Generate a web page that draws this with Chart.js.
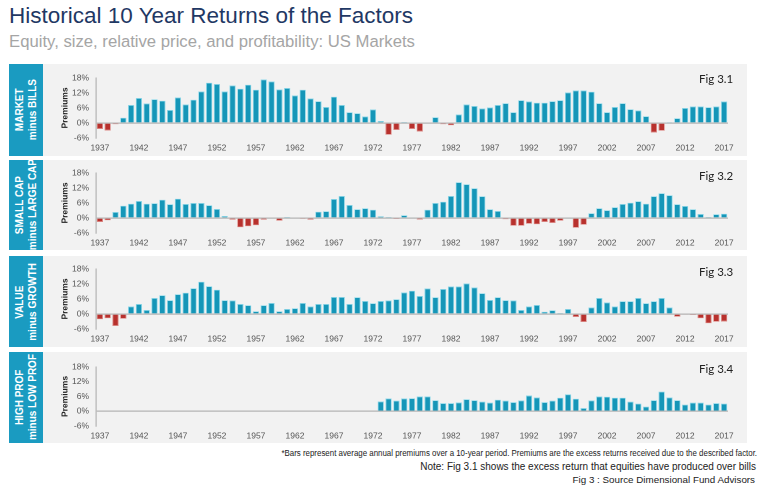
<!DOCTYPE html>
<html>
<head>
<meta charset="utf-8">
<script src="https://cdn.jsdelivr.net/npm/chart.js@4.4.1/dist/chart.umd.min.js"></script>
<style>
  html, body { margin:0; padding:0; background:#fff; }
  body { width:764px; height:492px; position:relative; overflow:hidden; font-family:"Liberation Sans", Arial, sans-serif; }
  .title { position:absolute; left:9px; top:3px; font-size:22.5px; color:#1f3864; white-space:nowrap; }
  .subtitle { position:absolute; left:9px; top:32px; font-size:16.7px; color:#a5a5a5; white-space:nowrap; }
  .panel { position:absolute; left:43px; width:704px; background:#f2f2f2; }
  .lbl { position:absolute; left:9px; width:34px; background:#1a9bc1; overflow:hidden; display:flex; align-items:center; justify-content:center; }
  .lbl span { writing-mode:vertical-rl; transform:rotate(180deg); color:#fff; font-weight:bold; font-size:10px; line-height:12.5px; text-align:center; white-space:nowrap; }
  .fig { position:absolute; font-family:"Lato","Noto Sans",sans-serif; font-size:11.5px; color:#222; }
  canvas { position:absolute; left:43px; }
  .note { position:absolute; right:7px; color:#222; white-space:nowrap; text-align:right; }
</style>
</head>
<body>
<div class="title">Historical 10 Year Returns of the Factors</div>
<div class="subtitle">Equity, size, relative price, and profitability: US Markets</div>

<div class="lbl" style="top:64px;height:92px"><span>MARKET<br>minus BILLS</span></div>
<div class="panel" style="top:64px;height:92px"></div>
<canvas id="c1" width="704" height="92" style="top:64px;width:704px;height:92px"></canvas>
<div class="fig" style="left:699px;top:72px">Fig 3.1</div>

<div class="lbl" style="top:160px;height:90px"><span>SMALL CAP<br>minus LARGE CAP</span></div>
<div class="panel" style="top:160px;height:90px"></div>
<canvas id="c2" width="704" height="90" style="top:160px;width:704px;height:90px"></canvas>
<div class="fig" style="left:699px;top:169px">Fig 3.2</div>

<div class="lbl" style="top:256px;height:91px"><span>VALUE<br>minus GROWTH</span></div>
<div class="panel" style="top:256px;height:91px"></div>
<canvas id="c3" width="704" height="91" style="top:256px;width:704px;height:91px"></canvas>
<div class="fig" style="left:699px;top:265px">Fig 3.3</div>

<div class="lbl" style="top:352px;height:91px"><span>HIGH PROF<br>minus LOW PROF</span></div>
<div class="panel" style="top:352px;height:91px"></div>
<canvas id="c4" width="704" height="91" style="top:352px;width:704px;height:91px"></canvas>
<div class="fig" style="left:699px;top:362px">Fig 3.4</div>

<div class="note" style="top:448px;right:7px;font-size:9.2px;transform:scaleX(0.86);transform-origin:right center">*Bars represent average annual premiums over a 10-year period. Premiums are the excess returns received due to the described factor.</div>
<div class="note" style="top:461px;right:8px;font-size:10px">Note: Fig 3.1 shows the excess return that equities have produced over bills</div>
<div class="note" style="top:474px;right:9px;font-size:9.8px">Fig 3 : Source Dimensional Fund Advisors</div>

<script>
// ---- DATA ----
const years = [];
for (let y = 1937; y <= 2017; y++) years.push(String(y));

const yTicks = [-6, 0, 6, 12, 18];

const marketMinusBills = [
  -2.4,-3,-0.5,2.1,7.2,10,7.8,9.5,8.9,5.2,
  10.2,7.4,9.3,12.6,16.1,15.6,12.6,15,13.7,15.3,
  13.3,17.4,16.6,13.4,14,11,13.3,9.8,8.7,6.4,
  10.5,7.2,4.3,3.9,2.6,5.4,0.8,-4.7,-2.8,0.4,
  -2.4,-3.4,0,2.3,-0.5,-0.9,3.4,7.4,6.8,5.8,
  6.2,7.2,7.9,4.3,9.1,8.6,8.1,8.1,8.7,9.1,
  12.2,13,13,12.5,7.9,4.3,6.4,7.9,5.5,5,
  2.7,-3.8,-3.1,0.1,1.9,6,6.6,6.6,6.3,6.6,
  8.6
];

const smallMinusLarge = [
  -1.6,-0.9,2.4,4.9,5.7,6.8,5.7,5.9,7.3,5.5,
  7.7,5.6,6,6,5.1,3.6,0.8,-0.7,-3.7,-3.3,
  -2.9,-0.7,0,-1.1,0.4,0,-0.1,-0.7,2.5,2.7,
  7.6,8.8,5.2,3.5,3.9,3.3,0.7,0.4,-0.4,1.1,
  0.3,-0.6,3.3,6,6.5,8.8,14.3,13.5,11.9,8.7,
  3.5,2.8,-0.5,-3.1,-3.1,-2.3,-2.5,-1.6,-2,-1.1,
  0.3,-3.9,-2.7,1.9,3.9,3.1,4.3,5.6,6.1,6.7,
  5.7,8.7,9.9,9.1,5.5,4.8,3.5,1.6,0.4,1.5,
  1.7
];

const valueMinusGrowth = [
  -2.1,-1.7,-4.8,-1.9,3,4,1.6,6.4,7.5,5.5,
  7.9,8.5,10.3,12.9,11.1,9.7,5.5,5.4,4,3.5,
  1.1,3.5,4.4,1.1,2,2.3,4.4,3,4,4,
  6.8,6.8,4,6.7,5.2,4.3,5.2,5.4,5.9,8.6,
  9.3,7.2,10.2,6.7,10,11,11,12.2,10.6,8.3,
  5.6,6.7,5.5,5.4,1.6,3,3.6,0.9,1.5,0.4,
  2,-1.2,-3.2,2.6,6.4,4.6,3,5.1,5.1,6.4,
  4.3,5.1,6.4,2.6,-1.1,-0.3,-0.4,-1.7,-3.7,-3.1,
  -3
];

const highMinusLowProf = [
  null,null,null,null,null,null,null,null,null,null,
  null,null,null,null,null,null,null,null,null,null,
  null,null,null,null,null,null,null,null,null,null,
  null,null,null,null,null,null,
  4.0,5.2,4.3,5.2,5.3,6,6,4.5,3.3,3.3,
  3.6,4.9,4.5,3.9,3.5,4.7,4.3,3.7,4.4,6.4,
  5.6,3.7,4.3,5.5,6.9,5.1,1.3,4.4,6,5.9,
  5.5,5.5,3.9,3.1,1.9,4.5,8,5.6,4.5,2.7,
  3.5,3.5,2.7,3.3,3.1
];

// ---- CHART BUILDER ----
const POS = '#1596b8', POS_B = '#8fd9ea';
const NEG = '#b8312d', NEG_B = '#dd8985';
const FONT = '"Liberation Sans", Arial, sans-serif';

function makeChart(id, values, padTop, plotH, totalH) {
  const ctx = document.getElementById(id);
  return new Chart(ctx, {
    type: 'bar',
    data: {
      labels: years,
      datasets: [{
        data: values,
        backgroundColor: values.map(v => v !== null && v < 0 ? NEG : POS),
        borderColor: values.map(v => v !== null && v < 0 ? NEG_B : POS_B),
        borderWidth: 0.8,
        borderSkipped: 'bottom',
        categoryPercentage: 1,
        barPercentage: 0.8
      }]
    },
    options: {
      responsive: false,
      animation: false,
      devicePixelRatio: 2,
      layout: { padding: { top: padTop, right: 19, left: 0, bottom: 0 } },
      plugins: { legend: { display: false }, tooltip: { enabled: false } },
      scales: {
        x: {
          grid: { display: false, drawTicks: false },
          border: { display: false },
          ticks: {
            autoSkip: false, maxRotation: 0, minRotation: 0, padding: 5,
            color: '#555', font: { family: FONT, size: 8.5 },
            callback: function(v, i) { return (i % 5 === 0) ? years[i] : ''; }
          },
          afterFit: s => { s.height = totalH - padTop - plotH; }
        },
        y: {
          min: -6, max: 18,
          afterBuildTicks: s => { s.ticks = yTicks.map(v => ({ value: v })); },
          grid: {
            drawTicks: false,
            color: c => (c.tick && c.tick.value === 0) ? '#b4b4b4' : 'rgba(0,0,0,0)',
            lineWidth: 1.2
          },
          border: { display: true, color: '#b4b4b4', width: 1.2 },
          ticks: {
            padding: 7, color: '#555', font: { family: FONT, size: 8.5 },
            callback: v => v + '%'
          },
          title: {
            display: true, text: 'Premiums', color: '#222',
            font: { family: FONT, size: 8.5, weight: 'bold' },
            padding: { top: 17, bottom: 0 }
          },
          afterFit: s => { s.width = 53; }
        }
      }
    }
  });
}

makeChart('c1', marketMinusBills, 14, 60, 92);
makeChart('c2', smallMinusLarge, 13, 60, 90);
makeChart('c3', valueMinusGrowth, 13, 60, 91);
makeChart('c4', highMinusLowProf, 15, 59, 91);
</script>
</body>
</html>
